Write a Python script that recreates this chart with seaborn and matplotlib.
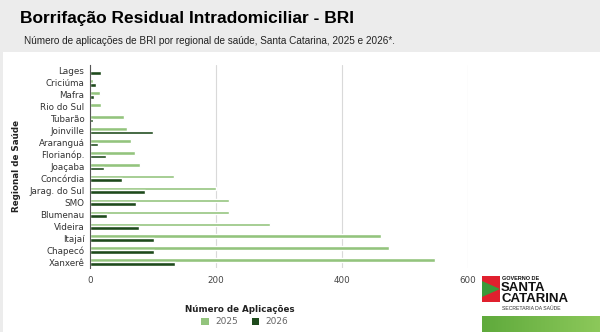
import numpy as np
import pandas as pd
import matplotlib
matplotlib.use("Agg")
import matplotlib.pyplot as plt
import seaborn as sns
from matplotlib.patches import Rectangle, Polygon, Patch
from matplotlib.colors import LinearSegmentedColormap

regionais = ["Lages", "Criciúma", "Mafra", "Rio do Sul", "Tubarão", "Joinville",
             "Araranguá", "Florianóp.", "Joaçaba", "Concórdia", "Jarag. do Sul",
             "SMO", "Blumenau", "Videira", "Itajaí", "Chapecó", "Xanxerê"]
v2025 = [0, 5, 16, 17, 54, 58, 65, 72, 79, 133, 200, 220, 221, 286, 462, 475, 548]
v2026 = [18, 9, 6, 0, 4, 100, 12, 25, 23, 51, 88, 73, 27, 77, 102, 101, 135]
anos = ["2025", "2026"]
xticks = [0, 200, 400, 600]

df = pd.DataFrame({
    "Regional": regionais * 2,
    "Ano": [anos[0]] * len(regionais) + [anos[1]] * len(regionais),
    "Valor": v2025 + v2026,
})

sns.set_theme(style="white")
plt.rcParams["font.family"] = ["DejaVu Sans"]

fig = plt.figure(figsize=(6.0, 3.32), dpi=100)
fig.patch.set_facecolor("#ececec")
fig.add_artist(Rectangle((3 / 600, 0), 597 / 600, 1 - 52 / 332, transform=fig.transFigure,
                         facecolor="white", edgecolor="none", zorder=0))

ax = fig.add_axes([90 / 600, 1 - 268 / 332, (468 - 90) / 600, (268 - 65) / 332])
ax.set_facecolor("white")
pal = {"2025": "#93c47d", "2026": "#1e4a1c"}
sns.barplot(data=df, y="Regional", x="Valor", hue="Ano", order=regionais,
            hue_order=anos, palette=pal, orient="h", width=0.62, ax=ax,
            legend=False, saturation=1)
ax.set_xlim(0, 600)
ax.set_xticks(xticks)
ax.set_xticklabels([str(t) for t in xticks], fontsize=6.3, color="#444444")
ax.tick_params(axis="y", labelsize=6.3, colors="#333333", length=2, pad=2)
ax.tick_params(axis="x", length=0, pad=6)
ax.xaxis.grid(True, color="#d9d9d9", linewidth=0.8)
ax.set_axisbelow(True)
for s in ["top", "right", "bottom"]:
    ax.spines[s].set_visible(False)
ax.spines["left"].set_color("#555555")
ax.spines["left"].set_linewidth(0.8)
ax.set_xlabel("Número de Aplicações", fontsize=6.3, fontweight="bold", color="#222222")
ax.xaxis.set_label_coords((240 - 90) / (468 - 90), -(305 - 268) / (268 - 65))
ax.set_ylabel("Regional de Saúde", fontsize=6.3, fontweight="bold", color="#222222")
ax.yaxis.set_label_coords(-(90 - 21) / (468 - 90), 0.5)

handles = [Patch(facecolor=pal[a], edgecolor="none", label=a) for a in anos]
fig.legend(handles=handles, loc="center", bbox_to_anchor=(245 / 600, 1 - 322 / 332), ncol=2,
           frameon=False, fontsize=6.5, handlelength=0.8, handleheight=0.8,
           columnspacing=1.6, handletextpad=0.7, labelcolor="#666666")

fig.text(20 / 600, 1 - 19 / 332, "Borrifação Residual Intradomiciliar - BRI", fontsize=12.5,
         fontweight="bold", family=["Liberation Sans", "DejaVu Sans"], color="black",
         va="center", ha="left")
fig.text(24 / 600, 1 - 41 / 332, "Número de aplicações de BRI por regional de saúde, Santa Catarina, 2025 e 2026*.",
         fontsize=7.2, family=["Liberation Sans", "DejaVu Sans"],
         color="#222222", va="center", ha="left")

# logo
fig.add_artist(Rectangle((482 / 600, 1 - 302 / 332), 18 / 600, 26 / 332, transform=fig.transFigure,
                         facecolor="#e0202e", edgecolor="none"))
fig.add_artist(Polygon([(482 / 600, 1 - 281 / 332), (500 / 600, 1 - 289 / 332), (482 / 600, 1 - 297 / 332)],
                       closed=True, transform=fig.transFigure, facecolor="#3a9a3a", edgecolor="none"))
logo_font = ["Liberation Sans", "DejaVu Sans"]
fig.text(502 / 600, 1 - 278.5 / 332, "GOVERNO DE", fontsize=4, fontweight="bold", family=logo_font,
         color="#111111", va="center")
fig.text(501 / 600, 1 - 288 / 332, "SANTA", fontsize=9.5, fontweight="bold", family=logo_font,
         color="#111111", va="center")
fig.text(501 / 600, 1 - 298.5 / 332, "CATARINA", fontsize=9.5, fontweight="bold", family=logo_font,
         color="#111111", va="center")
fig.text(502 / 600, 1 - 309 / 332, "SECRETARIA DA SAÚDE", fontsize=3.7, family=logo_font,
         color="#333333", va="center")
grad = np.linspace(0, 1, 100).reshape(1, -1)
gax = fig.add_axes([482 / 600, 0, 118 / 600, 16 / 332])
cm = LinearSegmentedColormap.from_list("g", ["#5faa3c", "#8cc85a"])
gax.imshow(grad, aspect="auto", cmap=cm)
gax.axis("off")

fig.savefig("out.png", dpi=100, facecolor=fig.get_facecolor())
